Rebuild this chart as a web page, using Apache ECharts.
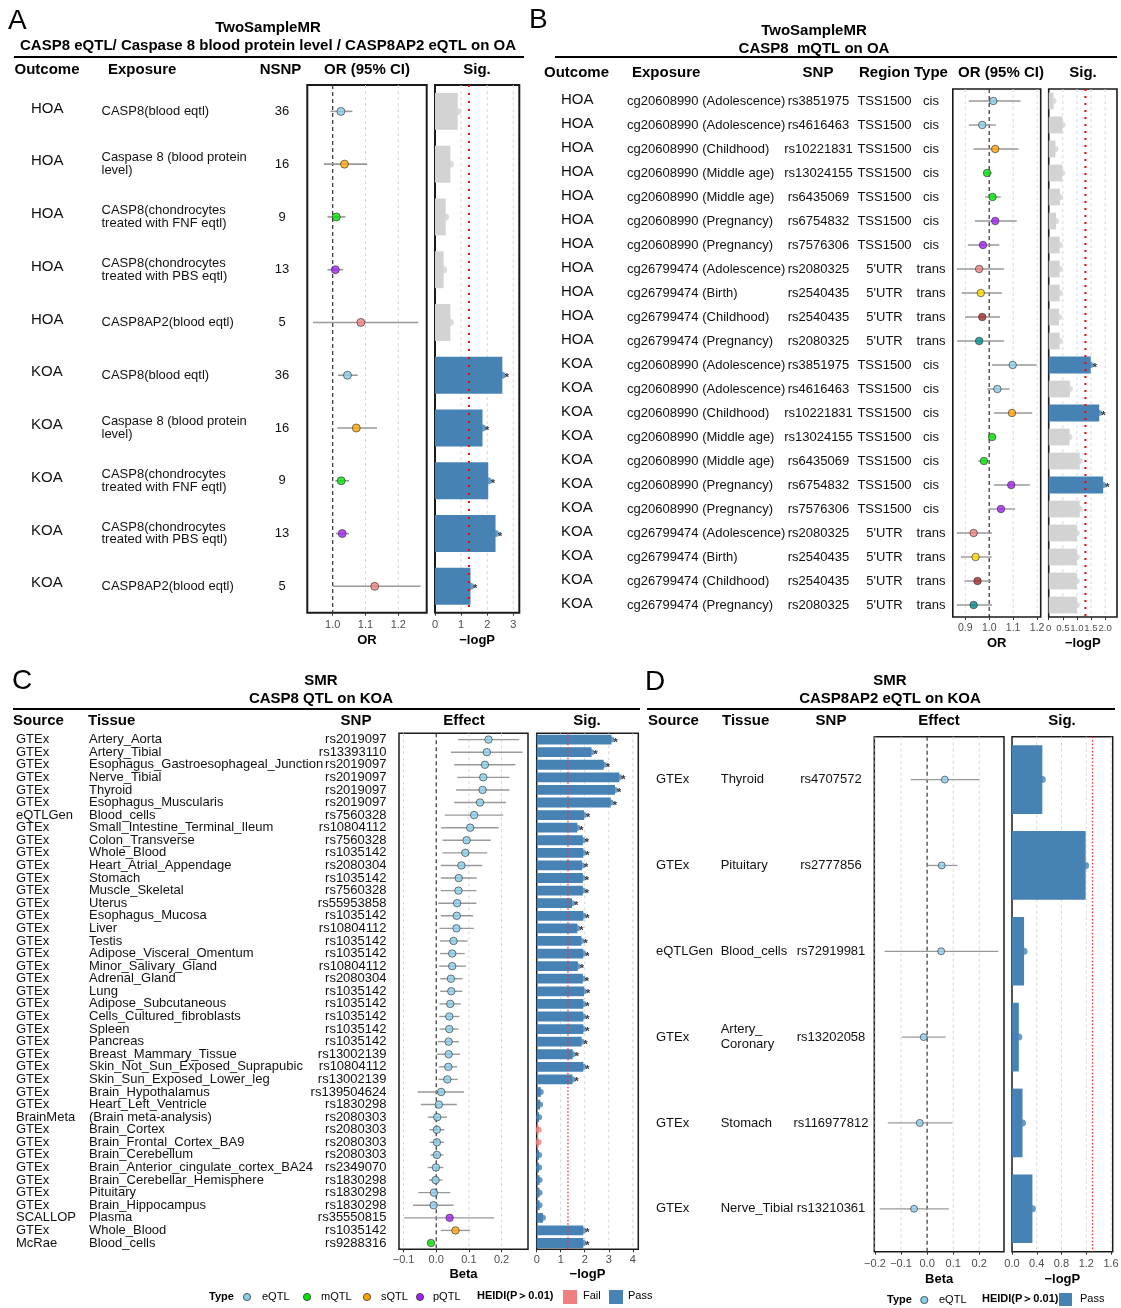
<!DOCTYPE html>
<html><head><meta charset="utf-8">
<script src="https://cdn.jsdelivr.net/npm/echarts@6/dist/echarts.min.js"></script>
<style>html,body{margin:0;padding:0;background:#fff}#c{width:1121px;height:1308px}</style>
</head><body><div id="c"></div>
<script>
// ===================== DATA =====================
// Panel A
const aOutcome = ['HOA','HOA','HOA','HOA','HOA','KOA','KOA','KOA','KOA','KOA'];
const aExposure = ['CASP8(blood eqtl)','Caspase 8 (blood protein\nlevel)','CASP8(chondrocytes\ntreated with FNF eqtl)','CASP8(chondrocytes\ntreated with PBS eqtl)','CASP8AP2(blood eqtl)',
                   'CASP8(blood eqtl)','Caspase 8 (blood protein\nlevel)','CASP8(chondrocytes\ntreated with FNF eqtl)','CASP8(chondrocytes\ntreated with PBS eqtl)','CASP8AP2(blood eqtl)'];
const aNSNP = [36,16,9,13,5,36,16,9,13,5];
const aOR    = [1.025,1.036,1.011,1.008,1.086,1.045,1.072,1.026,1.029,1.128];
const aLower = [0.993,0.973,0.984,0.984,0.940,1.016,1.014,1.008,1.010,1.001];
const aUpper = [1.060,1.105,1.039,1.032,1.261,1.076,1.135,1.050,1.050,1.268];
const aLogP  = [0.87,0.59,0.41,0.33,0.59,2.58,1.82,2.04,2.32,1.36];
const aOrTicks = [1.0,1.1,1.2];           const aOrTickLabels = ['1.0','1.1','1.2'];
const aSigTicks = [0,1,2,3];              const aSigTickLabels = ['0','1','2','3'];

// Panel B
const bOutcome = ['HOA','HOA','HOA','HOA','HOA','HOA','HOA','HOA','HOA','HOA','HOA',
                  'KOA','KOA','KOA','KOA','KOA','KOA','KOA','KOA','KOA','KOA','KOA'];
const bExposureSet = ['cg20608990 (Adolescence)','cg20608990 (Adolescence)','cg20608990 (Childhood)','cg20608990 (Middle age)','cg20608990 (Middle age)','cg20608990 (Pregnancy)','cg20608990 (Pregnancy)','cg26799474 (Adolescence)','cg26799474 (Birth)','cg26799474 (Childhood)','cg26799474 (Pregnancy)'];
const bExposure = bExposureSet.concat(bExposureSet);
const bSNPSet = ['rs3851975','rs4616463','rs10221831','rs13024155','rs6435069','rs6754832','rs7576306','rs2080325','rs2540435','rs2540435','rs2080325'];
const bSNP = bSNPSet.concat(bSNPSet);
const bRegionSet = ['TSS1500','TSS1500','TSS1500','TSS1500','TSS1500','TSS1500','TSS1500',"5'UTR","5'UTR","5'UTR","5'UTR"];
const bRegion = bRegionSet.concat(bRegionSet);
const bTypeSet = ['cis','cis','cis','cis','cis','cis','cis','trans','trans','trans','trans'];
const bType = bTypeSet.concat(bTypeSet);
const bOR    = [1.017,0.971,1.025,0.991,1.014,1.025,0.974,0.958,0.965,0.971,0.958,
                1.098,1.034,1.095,1.012,0.978,1.092,1.049,0.935,0.943,0.951,0.935];
const bLower = [0.915,0.915,0.934,0.977,0.983,0.940,0.911,0.865,0.885,0.900,0.866,
                1.011,0.992,1.020,1.000,0.954,1.020,0.997,0.865,0.882,0.897,0.865];
const bUpper = [1.131,1.028,1.122,1.011,1.048,1.115,1.042,1.062,1.054,1.045,1.062,
                1.198,1.085,1.180,1.026,1.000,1.169,1.108,1.012,1.011,1.008,1.012];
const bLogP  = [0.17,0.49,0.24,0.48,0.40,0.26,0.39,0.39,0.39,0.37,0.39,
                1.49,0.75,1.79,0.74,1.10,1.93,1.10,1.00,1.00,1.00,1.00];
const bOrTicks = [0.9,1.0,1.1,1.2];       const bOrTickLabels = ['0.9','1.0','1.1','1.2'];
const bSigTicks = [0,0.5,1.0,1.5,2.0];    const bSigTickLabels = ['0','0.5','1.0','1.5','2.0'];

// Panel C
const cSource = ['GTEx','GTEx','GTEx','GTEx','GTEx','GTEx','eQTLGen','GTEx','GTEx','GTEx','GTEx','GTEx','GTEx','GTEx','GTEx','GTEx','GTEx','GTEx','GTEx','GTEx','GTEx','GTEx','GTEx','GTEx','GTEx','GTEx','GTEx','GTEx','GTEx','GTEx','BrainMeta','GTEx','GTEx','GTEx','GTEx','GTEx','GTEx','GTEx','SCALLOP','GTEx','McRae'];
const cTissue = ['Artery_Aorta','Artery_Tibial','Esophagus_Gastroesophageal_Junction','Nerve_Tibial','Thyroid','Esophagus_Muscularis','Blood_cells','Small_Intestine_Terminal_Ileum','Colon_Transverse','Whole_Blood','Heart_Atrial_Appendage','Stomach','Muscle_Skeletal','Uterus','Esophagus_Mucosa','Liver','Testis','Adipose_Visceral_Omentum','Minor_Salivary_Gland','Adrenal_Gland','Lung','Adipose_Subcutaneous','Cells_Cultured_fibroblasts','Spleen','Pancreas','Breast_Mammary_Tissue','Skin_Not_Sun_Exposed_Suprapubic','Skin_Sun_Exposed_Lower_leg','Brain_Hypothalamus','Heart_Left_Ventricle','(Brain meta-analysis)','Brain_Cortex','Brain_Frontal_Cortex_BA9','Brain_Cerebellum','Brain_Anterior_cingulate_cortex_BA24','Brain_Cerebellar_Hemisphere','Pituitary','Brain_Hippocampus','Plasma','Whole_Blood','Blood_cells'];
const cSNP = ['rs2019097','rs13393110','rs2019097','rs2019097','rs2019097','rs2019097','rs7560328','rs10804112','rs7560328','rs1035142','rs2080304','rs1035142','rs7560328','rs55953858','rs1035142','rs10804112','rs1035142','rs1035142','rs10804112','rs2080304','rs1035142','rs1035142','rs1035142','rs1035142','rs1035142','rs13002139','rs10804112','rs13002139','rs139504624','rs1830298','rs2080303','rs2080303','rs2080303','rs2080303','rs2349070','rs1830298','rs1830298','rs1830298','rs35550815','rs1035142','rs9288316'];
const cType = ['eQTL','eQTL','eQTL','eQTL','eQTL','eQTL','eQTL','eQTL','eQTL','eQTL','eQTL','eQTL','eQTL','eQTL','eQTL','eQTL','eQTL','eQTL','eQTL','eQTL','eQTL','eQTL','eQTL','eQTL','eQTL','eQTL','eQTL','eQTL','eQTL','eQTL','eQTL','eQTL','eQTL','eQTL','eQTL','eQTL','eQTL','eQTL','pQTL','sQTL','mQTL'];
const cHeidi = ['Pass','Pass','Pass','Pass','Pass','Pass','Pass','Pass','Pass','Pass','Pass','Pass','Pass','Pass','Pass','Pass','Pass','Pass','Pass','Pass','Pass','Pass','Pass','Pass','Pass','Pass','Pass','Pass','Pass','Pass','Pass','Fail','Fail','Pass','Pass','Pass','Pass','Pass','Pass','Pass','Pass'];
const cBeta  = [0.160,0.155,0.149,0.144,0.142,0.134,0.116,0.104,0.093,0.089,0.077,0.069,0.068,0.064,0.063,0.062,0.053,0.049,0.049,0.045,0.046,0.043,0.040,0.040,0.038,0.038,0.037,0.034,0.015,0.008,0.003,0.002,0.002,0.002,-0.001,-0.002,-0.007,-0.008,0.041,0.059,-0.016];
const cLower = [0.067,0.045,0.055,0.065,0.061,0.055,0.026,0.015,0.019,0.019,0.014,0.014,0.014,0.006,0.014,0.010,0.011,0.012,0.009,0.012,0.012,0.010,0.009,0.010,0.005,0.002,0.009,0.007,-0.057,-0.047,-0.026,-0.021,-0.020,-0.018,-0.026,-0.022,-0.055,-0.071,-0.098,0.014,-0.023];
const cUpper = [0.254,0.264,0.242,0.224,0.224,0.214,0.205,0.191,0.167,0.156,0.141,0.124,0.123,0.123,0.113,0.115,0.096,0.087,0.091,0.081,0.080,0.075,0.071,0.068,0.070,0.073,0.064,0.066,0.085,0.063,0.033,0.025,0.024,0.022,0.022,0.019,0.043,0.053,0.177,0.104,-0.009];
const cLogP  = [3.11,2.28,2.79,3.44,3.26,3.08,1.97,1.69,1.92,1.94,1.89,1.92,1.92,1.47,1.94,1.69,1.86,1.94,1.71,1.92,1.97,1.94,1.94,1.94,1.87,1.50,1.94,1.49,0.17,0.14,0.10,0.08,0.08,0.10,0.10,0.12,0.12,0.12,0.26,1.94,1.94];
const cBetaTicks = [-0.1,0,0.1,0.2];      const cBetaTickLabels = ['\u22120.1','0.0','0.1','0.2'];
const cSigTicks = [0,1,2,3,4];            const cSigTickLabels = ['0','1','2','3','4'];

// Panel D
const dSource = ['GTEx','GTEx','eQTLGen','GTEx','GTEx','GTEx'];
const dTissue = ['Thyroid','Pituitary','Blood_cells','Artery_\nCoronary','Stomach','Nerve_Tibial'];
const dSNP = ['rs4707572','rs2777856','rs72919981','rs13202058','rs116977812','rs13210361'];
const dType = ['eQTL','eQTL','eQTL','eQTL','eQTL','eQTL'];
const dHeidi = ['Pass','Pass','Pass','Pass','Pass','Pass'];
const dBeta  = [0.068,0.056,0.054,-0.013,-0.028,-0.050];
const dLower = [-0.063,0.001,-0.163,-0.096,-0.151,-0.182];
const dUpper = [0.200,0.117,0.273,0.071,0.097,0.083];
const dLogP  = [0.49,1.19,0.195,0.11,0.17,0.33];
const dBetaTicks = [-0.2,-0.1,0,0.1,0.2]; const dBetaTickLabels = ['\u22120.2','\u22120.1','0.0','0.1','0.2'];
const dSigTicks = [0,0.4,0.8,1.2,1.6];    const dSigTickLabels = ['0.0','0.4','0.8','1.2','1.6'];

const SIG_P = 0.05; // significance threshold for -log10(P)

// ===================== STYLE =====================
const FONT = "'Liberation Sans', Arial, Helvetica, sans-serif";
const TXT = '#111';
const BLUE = '#4682B4', GREY = '#D3D3D3', FAIL = '#F08080';
const typeColor = {eQTL:'#87CEEB', mQTL:'#00E400', sQTL:'#FFA500', pQTL:'#A020F0'};
const heidiColor = {Pass: BLUE, Fail: FAIL};
const aExpColor = {'CASP8(blood eqtl)':'#87CEEB','Caspase 8 (blood protein\nlevel)':'#FFA500','CASP8(chondrocytes\ntreated with FNF eqtl)':'#00E400','CASP8(chondrocytes\ntreated with PBS eqtl)':'#A020F0','CASP8AP2(blood eqtl)':'#F08080'};
const bExpColor = {'cg20608990 (Adolescence)':'#87CEEB','cg20608990 (Childhood)':'#FFA500','cg20608990 (Middle age)':'#00E400','cg20608990 (Pregnancy)':'#A020F0','cg26799474 (Adolescence)':'#F08080','cg26799474 (Birth)':'#FFD700','cg26799474 (Childhood)':'#A52A2A','cg26799474 (Pregnancy)':'#008B8B'};
const sigLine = -Math.log10(SIG_P);

// ===================== BUILDERS =====================
const grids = [], xAxes = [], yAxes = [], series = [];
function addCartesian(rect, nRows, xCfg, boxW) {
  const gi = grids.length;
  grids.push(Object.assign({show: !!boxW, borderColor: '#1a1a1a', borderWidth: boxW || 0,
    backgroundColor: 'rgba(0,0,0,0)', containLabel: false, outerBoundsMode: 'none'}, rect));
  xAxes.push(Object.assign({gridIndex: gi}, xCfg));
  yAxes.push({gridIndex: gi, type: 'category', inverse: true, show: false,
    data: Array.from({length: nRows}, (_, i) => String(i))});
  return gi;
}
function hiddenX(max) { return {type: 'value', min: 0, max: max, show: false}; }
function valueX(min, max, ticks, labels, name, margin, nameGap, labelSize) {
  return {type: 'value', min: min, max: max,
    axisLine: {show: false}, splitLine: {show: false},
    axisTick: {show: true, customValues: ticks, length: 3, lineStyle: {color: '#333', width: 1}},
    axisLabel: {show: true, customValues: ticks, margin: margin, fontSize: labelSize || 11, color: '#4d4d4d', fontFamily: FONT,
      hideOverlap: false, showMinLabel: true, showMaxLabel: true,
      formatter: v => { const k = ticks.findIndex(t => Math.abs(t - v) < 1e-9); return k < 0 ? '' : labels[k]; }},
    name: name, nameLocation: 'middle', nameGap: nameGap, nameMoveOverlap: false,
    nameTextStyle: {fontWeight: 'bold', fontSize: 13, color: '#000', fontFamily: FONT}};
}
// vertical reference / grid lines drawn through the x scale of a grid
function vlines(gi, vals, style, z) {
  series.push({type: 'custom', xAxisIndex: gi, yAxisIndex: gi, z: z, silent: true, animation: false, clip: false,
    data: vals.map(v => [v, 0]), encode: {x: 0, y: 1},
    renderItem: (params, api) => {
      const cs = params.coordSys;
      const x = api.coord([api.value(0), 0])[0];
      return {type: 'line', shape: {x1: x, y1: cs.y, x2: x, y2: cs.y + cs.height},
        style: {stroke: style.color, lineWidth: style.width, lineDash: style.dash}};
    }});
}
const gridStyle = {color: '#d4d4d4', width: 0.9, dash: [3, 3]};
const refStyle = {color: '#333', width: 1.2, dash: [4, 3]};
function forest(gi, est, lo, hi, colors, ptSize, ciW, ref, gridVals) {
  vlines(gi, gridVals.filter(v => Math.abs(v - ref) > 1e-9), gridStyle, 1);
  vlines(gi, [ref], refStyle, 1);
  series.push({type: 'custom', xAxisIndex: gi, yAxisIndex: gi, z: 2, silent: true, animation: false,
    data: est.map((_, i) => [lo[i], hi[i], i]), encode: {x: [0, 1], y: 2},
    renderItem: (params, api) => {
      const p1 = api.coord([api.value(0), api.value(2)]), p2 = api.coord([api.value(1), api.value(2)]);
      return {type: 'line', shape: {x1: p1[0], y1: p1[1], x2: p2[0], y2: p2[1]}, style: {stroke: '#999', lineWidth: ciW}};
    }});
  series.push({type: 'scatter', xAxisIndex: gi, yAxisIndex: gi, z: 3, silent: true, animation: false,
    symbolSize: ptSize,
    data: est.map((v, i) => ({value: [v, i], itemStyle: {color: colors[i], borderColor: '#333', borderWidth: 0.8}}))});
}
function sigBars(gi, vals, colors, barW, dotSize, redStyle, gridVals) {
  vlines(gi, gridVals.filter(v => v > 0), gridStyle, 1);
  series.push({type: 'bar', xAxisIndex: gi, yAxisIndex: gi, z: 2, silent: true, animation: false,
    barWidth: barW, data: vals.map((v, i) => ({value: v, itemStyle: {color: colors[i]}}))});
  series.push({type: 'scatter', xAxisIndex: gi, yAxisIndex: gi, z: 3, silent: true, animation: false,
    symbolSize: dotSize,
    data: vals.map((v, i) => ({value: [v, i], itemStyle: {color: colors[i]},
      label: {show: v > sigLine, formatter: '*', position: 'right', distance: -1, offset: [0, 3],
        color: '#000', fontSize: 11, fontWeight: 'bold', fontFamily: FONT}}))});
  vlines(gi, [sigLine], redStyle, 4);
}
function textTable(gi, n, cols) {
  series.push({type: 'custom', xAxisIndex: gi, yAxisIndex: gi, silent: true, animation: false, clip: false,
    data: Array.from({length: n}, (_, i) => [0, i]),
    renderItem: (params, api) => {
      const i = params.dataIndex;
      return {type: 'group', children: cols.map(c => {
        const p = api.coord([c.x, i]);
        return {type: 'text', x: p[0], y: p[1] + (c.dy || 0),
          style: {text: String(c.values[i]), fill: TXT, fontSize: c.size, fontFamily: FONT, fontWeight: c.bold ? 'bold' : 'normal',
            align: c.align, verticalAlign: 'middle', textAlign: c.align, textVerticalAlign: 'middle', lineHeight: c.lh || c.size + 1}};
      })};
    }});
}

// ===================== PANEL A =====================
const nA = aOutcome.length;
const gAt = addCartesian({left: 0, top: 85, width: 300, height: 527.7}, nA, hiddenX(300));
textTable(gAt, nA, [
  {values: aOutcome, x: 31, align: 'left', size: 15, dy: -3},
  {values: aExposure, x: 101.5, align: 'left', size: 13, lh: 12.5},
  {values: aNSNP, x: 282, align: 'center', size: 13}
]);
const gAf = addCartesian({left: 307.3, top: 85, width: 119.4, height: 527.7}, nA,
  valueX(0.9226, 1.2866, aOrTicks, aOrTickLabels, 'OR', 7, 21), 2);
forest(gAf, aOR, aLower, aUpper, aExposure.map(e => aExpColor[e]), 8, 1.6, 1, aOrTicks);
const gAs = addCartesian({left: 435, top: 85, width: 84.3, height: 527.7}, nA,
  valueX(0, 3.23, aSigTicks, aSigTickLabels, '\u2212logP', 7, 21), 2);
sigBars(gAs, aLogP, aLogP.map(v => v > sigLine ? BLUE : GREY), '70%', 7, {color: '#ff0000', width: 2, dash: [2, 6]}, aSigTicks);

// ===================== PANEL B =====================
const nB = bOutcome.length;
const gBt = addCartesian({left: 0, top: 89, width: 950, height: 528}, nB, hiddenX(950));
textTable(gBt, nB, [
  {values: bOutcome, x: 561, align: 'left', size: 15, dy: -1},
  {values: bExposure, x: 627, align: 'left', size: 13},
  {values: bSNP, x: 818.5, align: 'center', size: 13},
  {values: bRegion, x: 884.5, align: 'center', size: 13},
  {values: bType, x: 931, align: 'center', size: 13}
]);
const gBf = addCartesian({left: 952.8, top: 89, width: 87.9, height: 528}, nB,
  valueX(0.848, 1.215, bOrTicks, bOrTickLabels, 'OR', 6, 20, 10.5), 1.6);
forest(gBf, bOR, bLower, bUpper, bExposure.map(e => bExpColor[e]), 7.5, 1.4, 1, bOrTicks);
const gBs = addCartesian({left: 1048.7, top: 89, width: 68.3, height: 528}, nB,
  valueX(0, 2.42, bSigTicks, bSigTickLabels, '\u2212logP', 6, 20, 9.6), 1.6);
sigBars(gBs, bLogP, bLogP.map(v => v > sigLine ? BLUE : GREY), '70%', 6, {color: '#ff0000', width: 2, dash: [2, 5]}, bSigTicks);

// ===================== PANEL C =====================
const nC = cSource.length;
const gCt = addCartesian({left: 0, top: 733.3, width: 395, height: 516}, nC, hiddenX(395));
textTable(gCt, nC, [
  {values: cSource, x: 16, align: 'left', size: 13, lh: 13},
  {values: cTissue, x: 89, align: 'left', size: 13, lh: 13},
  {values: cSNP, x: 386.5, align: 'right', size: 13, lh: 13}
]);
const gCf = addCartesian({left: 399, top: 733.3, width: 129, height: 516}, nC,
  valueX(-0.114, 0.281, cBetaTicks, cBetaTickLabels, 'Beta', 5, 19), 1.5);
forest(gCf, cBeta, cLower, cUpper, cType.map(t => typeColor[t]), 7.5, 1.4, 0, cBetaTicks);
const gCs = addCartesian({left: 536.7, top: 733.3, width: 101.6, height: 516}, nC,
  valueX(0, 4.23, cSigTicks, cSigTickLabels, '\u2212logP', 5, 19), 1.5);
sigBars(gCs, cLogP, cHeidi.map(h => heidiColor[h]), '78%', 6, {color: '#ff3030', width: 1.3, dash: [1.5, 2]}, cSigTicks);

// ===================== PANEL D =====================
const nD = dSource.length;
const gDt = addCartesian({left: 0, top: 736.7, width: 870, height: 515}, nD, hiddenX(870));
textTable(gDt, nD, [
  {values: dSource, x: 656, align: 'left', size: 13},
  {values: dTissue, x: 720.7, align: 'left', size: 13, lh: 15},
  {values: dSNP, x: 831, align: 'center', size: 13}
]);
const gDf = addCartesian({left: 874.3, top: 736.7, width: 129.7, height: 515}, nD,
  valueX(-0.2026, 0.295, dBetaTicks, dBetaTickLabels, 'Beta', 7, 21), 1.5);
forest(gDf, dBeta, dLower, dUpper, dType.map(t => typeColor[t]), 7, 1.3, 0, dBetaTicks);
const gDs = addCartesian({left: 1012, top: 736.7, width: 100.7, height: 515}, nD,
  valueX(0, 1.627, dSigTicks, dSigTickLabels, '\u2212logP', 7, 21), 1.5);
sigBars(gDs, dLogP, dHeidi.map(h => heidiColor[h]), '80%', 7, {color: '#ff3030', width: 1.3, dash: [1.5, 2]}, dSigTicks);

// ===================== TITLES / HEADERS / LEGENDS =====================
function T(text, x, y, size, bold, align) {
  return {type: 'text', x: x, y: y, silent: true,
    style: {text: text, fill: '#000', fontSize: size, fontFamily: FONT, fontWeight: bold ? 'bold' : 'normal',
      align: align || 'left', verticalAlign: 'middle', textAlign: align || 'left', textVerticalAlign: 'middle'}};
}
function L(x1, x2, y) { return {type: 'line', silent: true, shape: {x1, y1: y, x2, y2: y}, style: {stroke: '#000', lineWidth: 2}}; }
function dot(cx, cy, fill) { return {type: 'circle', silent: true, shape: {cx, cy, r: 3.6}, style: {fill, stroke: '#333', lineWidth: 0.8}}; }
function sq(x, y, w, fill) { return {type: 'rect', silent: true, shape: {x, y, width: w, height: w}, style: {fill}}; }

const graphics = [
  // Panel A
  T('A', 8, 21, 28, false), T('TwoSampleMR', 268, 28, 15, true, 'center'),
  T('CASP8 eQTL/ Caspase 8 blood protein level / CASP8AP2 eQTL on OA', 268, 46, 15, true, 'center'),
  L(14, 524, 57),
  T('Outcome', 14.5, 70, 15, true), T('Exposure', 108, 70, 15, true), T('NSNP', 280.5, 70, 15, true, 'center'),
  T('OR (95% CI)', 367, 70, 15, true, 'center'), T('Sig.', 477, 70, 15, true, 'center'),
  // Panel B
  T('B', 529, 20, 28, false), T('TwoSampleMR', 814, 31, 15, true, 'center'),
  T('CASP8  mQTL on OA', 814, 49, 15, true, 'center'),
  L(555, 1117, 57),
  T('Outcome', 544, 73, 15, true), T('Exposure', 632, 73, 15, true), T('SNP', 818, 73, 15, true, 'center'),
  T('Region Type', 859, 73, 15, true),
  T('OR (95% CI)', 1001, 73, 15, true, 'center'), T('Sig.', 1083, 73, 15, true, 'center'),
  // Panel C
  T('C', 12, 681, 28, false), T('SMR', 321, 681, 15, true, 'center'),
  T('CASP8 QTL on KOA', 321, 699, 15, true, 'center'),
  L(13, 640, 709),
  T('Source', 13, 721, 15, true), T('Tissue', 88, 721, 15, true), T('SNP', 356, 721, 15, true, 'center'),
  T('Effect', 464, 721, 15, true, 'center'), T('Sig.', 587, 721, 15, true, 'center'),
  // Panel D
  T('D', 645, 682, 28, false), T('SMR', 890, 681, 15, true, 'center'),
  T('CASP8AP2 eQTL on KOA', 890, 699, 15, true, 'center'),
  L(647, 1115, 709),
  T('Source', 648, 721, 15, true), T('Tissue', 722, 721, 15, true), T('SNP', 831, 721, 15, true, 'center'),
  T('Effect', 939, 721, 15, true, 'center'), T('Sig.', 1062, 721, 15, true, 'center'),
  // Legend C
  T('Type', 209, 1297, 11, true),
  dot(247, 1297, typeColor.eQTL), T('eQTL', 262, 1297, 11, false),
  dot(307, 1297, typeColor.mQTL), T('mQTL', 321, 1297, 11, false),
  dot(367, 1297, typeColor.sQTL), T('sQTL', 381, 1297, 11, false),
  dot(420, 1297, typeColor.pQTL), T('pQTL', 433, 1297, 11, false),
  T('HEIDI(P\uFF1E0.01)', 477, 1296, 11, true),
  sq(563, 1290, 14, FAIL), T('Fail', 583, 1296, 11, false),
  sq(609, 1290, 14, BLUE), T('Pass', 628, 1296, 11, false),
  // Legend D
  T('Type', 887, 1300, 11, true),
  dot(924.3, 1300, typeColor.eQTL), T('eQTL', 939, 1300, 11, false),
  T('HEIDI(P\uFF1E0.01)', 982, 1299, 11, true),
  sq(1059, 1293, 13, BLUE), T('Pass', 1080, 1299, 11, false)
];

const chart = echarts.init(document.getElementById('c'), null, {renderer: 'canvas', width: 1121, height: 1308});
chart.setOption({
  animation: false,
  backgroundColor: '#ffffff',
  textStyle: {fontFamily: FONT},
  grid: grids, xAxis: xAxes, yAxis: yAxes, series: series,
  graphic: {elements: graphics}
});
</script></body></html>
